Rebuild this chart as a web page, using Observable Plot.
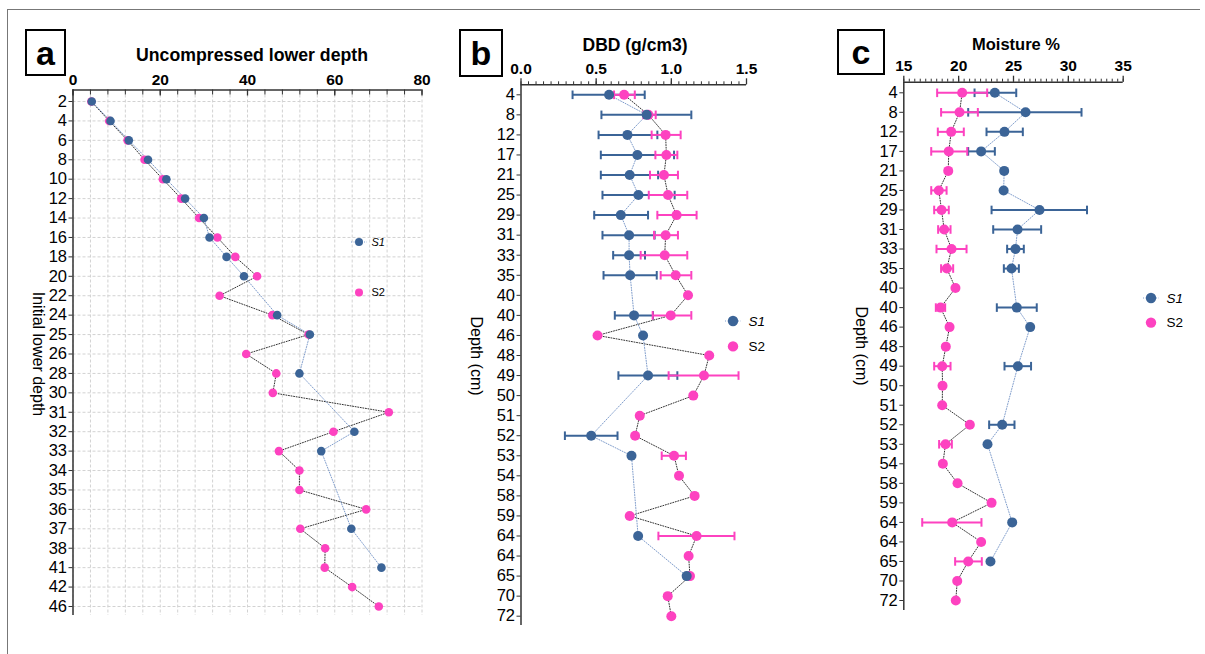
<!DOCTYPE html>
<html><head><meta charset="utf-8">
<script src="https://cdn.jsdelivr.net/npm/d3@7"></script>
<script src="https://cdn.jsdelivr.net/npm/@observablehq/plot@0.6"></script>
<style>
html,body{margin:0;padding:0;background:#fff;}
#wrap{position:relative;width:1205px;height:654px;overflow:hidden;font-family:"Liberation Sans",Arial,sans-serif;color:#000;background:#fff;}
.abs{position:absolute;}
.box{position:absolute;border:2px solid #000;box-sizing:border-box;font-weight:bold;font-size:34px;display:flex;align-items:center;justify-content:center;line-height:1;}
.title{position:absolute;font-weight:bold;white-space:nowrap;transform:translateX(-50%);line-height:1;}
.ytitle{position:absolute;white-space:nowrap;transform:translate(-50%,-50%) rotate(90deg);line-height:1;}
</style></head><body><div id="wrap"></div>
<script>
// ---------- data ----------
const aLabels = ["2","4","6","8","10","12","14","16","18","20","22","24","25","26","28","30","31","32","33","34","35","36","37","38","41","42","46"];
const aS1 = [4.3,8.6,12.8,17.2,21.4,25.7,30.0,31.3,35.2,39.2,null,46.8,54.3,null,51.9,null,null,64.5,56.9,null,null,null,63.8,null,70.7,null,null];
const aS2 = [4.2,8.3,12.5,16.4,20.6,24.8,28.9,33.1,37.2,42.2,33.6,45.7,54.0,39.7,46.6,45.8,72.4,59.7,47.2,51.9,51.9,67.2,52.1,57.8,57.7,64.0,70.1];

const bLabels = ["4","8","12","17","21","25","29","31","33","35","40","40","46","48","49","50","51","52","53","54","58","59","64","64","65","70","72"];
const bS1   = [0.586,0.836,0.708,0.774,0.723,0.781,0.664,0.719,0.719,0.726,null,0.752,0.812,null,0.845,null,null,0.467,0.735,null,null,null,0.779,null,1.102,null,null];
const bS1lo = [0.343,0.535,0.516,0.531,0.531,0.542,0.487,0.542,0.613,0.549,null,0.624,null,null,0.648,null,null,0.292,null,null,null,null,null,null,null,null,null];
const bS1hi = [0.823,1.133,0.907,1.018,0.912,1.022,0.845,0.889,0.825,0.903,null,0.878,null,null,1.040,null,null,0.642,null,null,null,null,null,null,null,null,null];
const bS2   = [0.686,0.847,0.962,0.967,0.951,0.978,1.035,0.962,0.956,1.029,1.111,0.996,0.509,1.252,1.217,1.146,0.790,0.759,1.018,1.051,1.155,0.723,1.168,1.115,1.124,0.976,1.000];
const bS2lo = [0.619,0.814,0.869,0.894,0.858,0.850,0.907,0.885,0.796,0.929,null,0.876,null,null,0.982,null,null,null,0.936,null,null,null,0.914,null,null,null,null];
const bS2hi = [0.757,0.896,1.062,1.040,1.044,1.106,1.168,1.044,1.106,1.133,null,1.133,null,null,1.447,null,null,null,1.097,null,null,null,1.420,null,null,null,null];

const cLabels = ["4","8","12","17","21","25","29","31","33","35","40","40","46","48","49","50","51","52","53","54","58","59","64","64","65","70","72"];
const cS1   = [23.3,26.1,24.18,22.05,24.15,24.1,27.37,25.37,25.18,24.82,null,25.3,26.52,null,25.4,null,null,23.97,22.63,null,null,null,24.88,null,22.9,null,null];
const cS1lo = [21.45,20.87,22.54,20.87,null,null,23.0,23.15,24.42,24.12,null,23.48,null,null,24.18,null,null,22.78,null,null,null,null,null,null,null,null,null];
const cS1hi = [25.25,31.2,25.85,23.3,null,null,31.7,27.52,25.94,25.49,null,27.12,null,null,26.6,null,null,25.09,null,null,null,null,null,null,null,null,null];
const cS2   = [20.32,20.08,19.32,19.1,19.05,18.19,18.44,18.68,19.35,18.92,19.71,18.35,19.17,18.83,18.5,18.53,18.5,21.02,18.8,18.56,19.9,23.0,19.41,22.05,20.87,19.87,19.74];
const cS2lo = [18.04,18.4,18.1,17.5,null,17.5,17.77,18.13,17.98,18.4,null,17.92,null,null,17.77,null,null,null,18.22,null,null,null,16.68,null,19.68,null,null];
const cS2hi = [22.6,21.75,20.47,20.78,null,18.9,19.1,19.26,20.72,19.5,null,18.77,null,null,19.26,null,null,null,19.38,null,null,null,22.08,null,22.11,null,null];

const aMajor = [0,20,40,60,80];
const bMajor = [0,0.5,1,1.5];
const cMajor = [15,20,25,30,35];

// ---------- style ----------
const BLUE = "#3b6497", PINK = "#fd42c0", BLUELINE = "#7f9dcc", PINKLINE = "#333";
const W = 1205, H = 654;
const wrap = document.getElementById("wrap");

function rows(v, lo, hi) {
  return v.map((d, i) => ({i, v: d, lo: lo ? lo[i] : null, hi: hi ? hi[i] : null})).filter(d => d.v != null);
}
const capSym = {draw(ctx, size) { const r = Math.sqrt(size / Math.PI); ctx.moveTo(0, -r); ctx.lineTo(0, r); }};

function panel(o) {
  const n = o.labels.length, idx = d3.range(n);
  const s1 = rows(o.s1, o.s1lo, o.s1hi), s2 = rows(o.s2, o.s2lo, o.s2hi);
  const e1 = s1.filter(d => d.lo != null), e2 = s2.filter(d => d.lo != null);
  const plotH = o.bottom - o.top;
  const marks = [];
  if (o.grid) {
    marks.push(Plot.gridX(o.grid, {stroke: "#d2d2d2", strokeOpacity: 1, strokeDasharray: "3,2"}));
    marks.push(Plot.gridY(idx, {stroke: "#d2d2d2", strokeOpacity: 1, strokeDasharray: "3,2"}));
  }
  marks.push(
    Plot.line(s2, {x: "v", y: "i", stroke: PINKLINE, strokeWidth: 1, strokeDasharray: "1,1.6"}),
    Plot.line(s1, {x: "v", y: "i", stroke: BLUELINE, strokeWidth: 1, strokeDasharray: "1,1.6"}),
    Plot.ruleY(e1, {y: "i", x1: "lo", x2: "hi", stroke: BLUE, strokeWidth: 2}),
    Plot.dot(e1, {x: "lo", y: "i", symbol: capSym, r: o.cap, stroke: BLUE, strokeWidth: 2, fill: "none"}),
    Plot.dot(e1, {x: "hi", y: "i", symbol: capSym, r: o.cap, stroke: BLUE, strokeWidth: 2, fill: "none"}),
    Plot.ruleY(e2, {y: "i", x1: "lo", x2: "hi", stroke: PINK, strokeWidth: 2}),
    Plot.dot(e2, {x: "lo", y: "i", symbol: capSym, r: o.cap, stroke: PINK, strokeWidth: 2, fill: "none"}),
    Plot.dot(e2, {x: "hi", y: "i", symbol: capSym, r: o.cap, stroke: PINK, strokeWidth: 2, fill: "none"}),
    Plot.dot(s2, {x: "v", y: "i", r: o.r, fill: PINK}),
    Plot.dot(s1, {x: "v", y: "i", r: o.r, fill: BLUE}),
    // axis lines
    Plot.ruleX([o.domain[0]], {stroke: "#333", strokeWidth: 1.5}),
    Plot.ruleY([0], {y: d => d, dy: o.top - o.yFirst, stroke: "#333", strokeWidth: 1.5}),
    // top ticks
    o.down
      ? Plot.ruleX(o.minor, {x: d => d, insetTop: 0, insetBottom: plotH - 5, stroke: "#333"})
      : Plot.ruleX(o.minor, {x: d => d, insetTop: -3, insetBottom: plotH, stroke: "#333"}),
    o.down
      ? Plot.ruleX(o.major, {x: d => d, insetTop: 0, insetBottom: plotH - 6, stroke: "#333", strokeWidth: 1.3})
      : Plot.ruleX(o.major, {x: d => d, insetTop: -6, insetBottom: plotH, stroke: "#333", strokeWidth: 1.3}),
    Plot.axisX({anchor: "top", ticks: o.major, tickFormat: o.fmt, tickSize: 0, tickPadding: o.tp, fontSize: 15.5, fontWeight: "bold", label: null}),
    Plot.axisY({ticks: idx, tickFormat: i => o.labels[i], tickSize: 4, tickPadding: 2, fontSize: 16.5, label: null, stroke: "#333"})
  );
  const svg = Plot.plot({
    width: W, height: H,
    marginLeft: o.left, marginRight: W - o.right, marginTop: o.top, marginBottom: H - o.bottom,
    style: {background: "transparent", fontFamily: '"Liberation Sans", Arial, sans-serif', color: "#000", overflow: "visible"},
    x: {domain: o.domain, axis: null},
    y: {type: "point", domain: idx, range: [o.yFirst, o.yLast], padding: 0, round: false, axis: null},
    marks
  });
  svg.style.position = "absolute"; svg.style.left = "0px"; svg.style.top = "0px";
  wrap.appendChild(svg);
}

panel({labels: aLabels, s1: aS1, s2: aS2, domain: [0, 80], left: 72.5, right: 421.5, top: 89.5, bottom: 615, yFirst: 101, yLast: 606,
  grid: d3.range(0, 81, 4), minor: d3.range(0, 81, 4), major: aMajor, fmt: d => d, tp: 5, down: true, r: 4.3, cap: 4});
panel({labels: bLabels, s1: bS1, s1lo: bS1lo, s1hi: bS1hi, s2: bS2, s2lo: bS2lo, s2hi: bS2hi, domain: [0, 1.5], left: 520.5, right: 746, top: 84.3, bottom: 625, yFirst: 94.3, yLast: 615.7,
  minor: d3.range(0, 31).map(k => k * 0.05), major: bMajor, fmt: d3.format(".1f"), tp: 11, down: false, r: 5, cap: 4.3});
panel({labels: cLabels, s1: cS1, s1lo: cS1lo, s1hi: cS1hi, s2: cS2, s2lo: cS2lo, s2hi: cS2hi, domain: [15, 35], left: 903.3, right: 1122.7, top: 81.7, bottom: 610, yFirst: 92.3, yLast: 600,
  minor: d3.range(0, 41).map(k => 15 + k * 0.5), major: cMajor, fmt: d => d, tp: 11, down: false, r: 5, cap: 4.3});

// ---------- decorations ----------
function add(html) { wrap.insertAdjacentHTML("beforeend", html); }
add(`<div class="abs" style="left:7px;top:9px;width:1193px;height:1px;background:#777"></div>`);
add(`<div class="abs" style="left:7px;top:9px;width:1px;height:645px;background:#777"></div>`);
add(`<div class="box" style="left:25px;top:29px;width:41px;height:47px">a</div>`);
add(`<div class="box" style="left:459px;top:29px;width:44px;height:48px">b</div>`);
add(`<div class="box" style="left:837px;top:29px;width:48px;height:46px">c</div>`);
add(`<div class="title" style="left:252px;top:47px;font-size:17.7px">Uncompressed lower depth</div>`);
add(`<div class="title" style="left:635px;top:37px;font-size:17.5px">DBD (g/cm3)</div>`);
add(`<div class="title" style="left:1016px;top:36px;font-size:16.5px">Moisture %</div>`);
add(`<div class="ytitle" style="left:38px;top:354px;font-size:16px">Initial lower depth</div>`);
add(`<div class="ytitle" style="left:476px;top:356px;font-size:16px">Depth (cm)</div>`);
add(`<div class="ytitle" style="left:861px;top:346px;font-size:16px">Depth (cm)</div>`);

function legend(x, y1, y2, r, fs, gap) {
  add(`<svg class="abs" style="left:${x-12}px;top:${y1-10}px;overflow:visible" width="60" height="${y2-y1+20}">
    <line x1="4" x2="20" y1="10" y2="10" stroke="${BLUELINE}" stroke-dasharray="1,1.6"/>
    <circle cx="12" cy="10" r="${r}" fill="${BLUE}"/>
    <circle cx="12" cy="${y2-y1+10}" r="${r}" fill="${PINK}"/>
    <text x="${12+gap}" y="10" dy="0.35em" font-size="${fs}" font-style="italic" font-family="Liberation Sans, Arial">S1</text>
    <text x="${12+gap}" y="${y2-y1+10}" dy="0.35em" font-size="${fs}" font-family="Liberation Sans, Arial">S2</text>
  </svg>`);
}
legend(359.3, 242.3, 292.7, 4, 11, 12.5);
legend(732.5, 321.3, 346.7, 5.2, 13.5, 15.5);
legend(1151, 297.7, 322.3, 5.2, 13.5, 15.5);
</script></body></html>
